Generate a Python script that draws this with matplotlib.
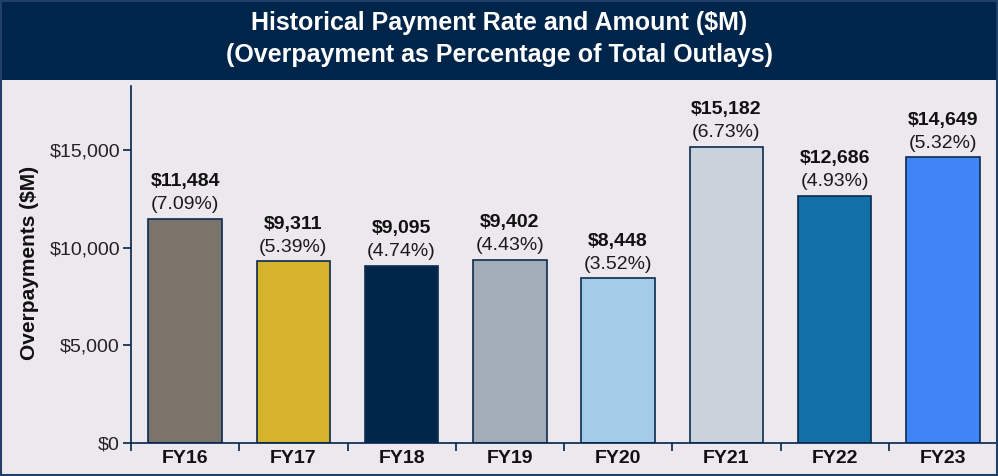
import matplotlib.pyplot as plt
from matplotlib.patches import Rectangle

plt.rcParams['font.family'] = ['Liberation Sans', 'DejaVu Sans']

jahre = ["FY16", "FY17", "FY18", "FY19", "FY20", "FY21", "FY22", "FY23"]
betraege = [11484, 9311, 9095, 9402, 8448, 15182, 12686, 14649]
raten = ["7.09%", "5.39%", "4.74%", "4.43%", "3.52%", "6.73%", "4.93%", "5.32%"]
farben = ["#7a746b", "#d6b32a", "#00264a", "#a2adb8", "#a3cce8", "#cad2db", "#126fa8", "#3f85f7"]

navy = "#00254b"
hintergrund = "#ece8ed"

fig = plt.figure(figsize=(9.98, 4.76), dpi=100, facecolor=hintergrund)

# Titelbalken
fig.patches.append(Rectangle((0, 396 / 476), 1, 80 / 476, transform=fig.transFigure,
                             facecolor=navy, edgecolor="none", zorder=0))
fig.patches.append(Rectangle((0.001, 0.002), 0.998, 0.996, transform=fig.transFigure,
                             facecolor="none", edgecolor="#20406a", linewidth=1.5, zorder=5))
fig.text(0.5, 437 / 476, "Historical Payment Rate and Amount ($M)\n(Overpayment as Percentage of Total Outlays)",
         ha="center", va="center", color="white", fontsize=18, fontweight="bold", linespacing=1.38)

ax = fig.add_axes([131 / 998, 33 / 476, 866 / 998, 357 / 476])
ax.set_facecolor(hintergrund)

x = range(len(jahre))
ax.bar(x, betraege, width=0.68, color=farben, edgecolor="#0d2b4f", linewidth=1.2, zorder=2)

for i, (b, r) in enumerate(zip(betraege, raten)):
    ax.annotate("(" + r + ")", (i, b), xytext=(0, 4), textcoords="offset points",
                ha="center", va="bottom", fontsize=14, color="#1a1a1a")
    ax.annotate(f"${b:,}", (i, b), xytext=(0, 20.5), textcoords="offset points",
                ha="center", va="bottom", fontsize=14, fontweight="bold", color="#111111")

ax.set_xlim(-0.5, 7.5)
ax.set_ylim(0, 18300)
ax.set_yticks([0, 5000, 10000, 15000])
ax.set_yticklabels(["$0", "$5,000", "$10,000", "$15,000"], fontsize=14, color="#222222")
ax.set_xticks([i - 0.5 for i in range(9)])
ax.set_xticklabels([])
ax.set_xticks(list(x), minor=True)
ax.set_xticklabels(jahre, minor=True, fontsize=14, fontweight="bold", color="#111111")
ax.tick_params(axis="x", which="minor", length=0, pad=5)
ax.tick_params(axis="x", which="major", length=6, color=navy, width=1.2)
ax.tick_params(axis="y", length=6, color=navy, width=1.2, pad=2)

for s in ["top", "right"]:
    ax.spines[s].set_visible(False)
for s in ["left", "bottom"]:
    ax.spines[s].set_color(navy)
    ax.spines[s].set_linewidth(1.2)

fig.text(30 / 998, 1 - 263 / 476, "Overpayments ($M)", rotation=90, ha="center", va="center",
         fontsize=15, fontweight="bold", color="#111111")

fig.savefig("out.png", dpi=100, facecolor=hintergrund)
